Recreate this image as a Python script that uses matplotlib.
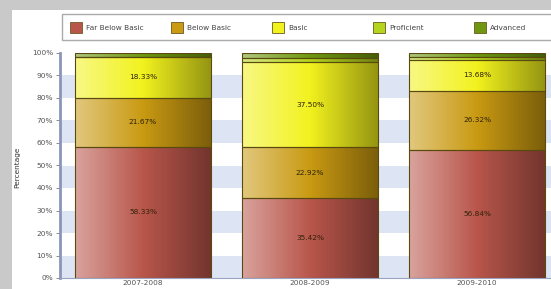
import numpy as np
import matplotlib
matplotlib.use("Agg")
import matplotlib.pyplot as plt
from matplotlib.colors import LinearSegmentedColormap, to_rgb
from matplotlib.patches import Rectangle

# ---------- data ----------
years = ["2007-2008", "2008-2009", "2009-2010"]
levels = ["Far Below Basic", "Below Basic", "Basic", "Proficient", "Advanced"]
far_below = [58.33, 35.42, 56.84]
below = [21.67, 22.92, 26.32]
basic = [18.33, 37.50, 13.68]
proficient = [0.00, 2.08, 1.58]
advanced = [1.67, 2.08, 1.58]
series = [far_below, below, basic, proficient, advanced]
colors = ["#b9564b", "#c99a12", "#f2f21e", "#b4d41e", "#6f9810"]
show_label = [True, True, True, False, False]

W, H = 551, 289
fs = 5.3

# ---------- figure ----------
fig = plt.figure(figsize=(W / 100, H / 100), dpi=100)
fig.patch.set_facecolor("#c9c9c9")
fig.patches.append(Rectangle((12 / W, 0), 1, 1 - 10 / H, transform=fig.transFigure,
                             facecolor="white", edgecolor="none", zorder=-5))

ax = fig.add_axes([60 / W, 11 / H, 491 / W, 225 / H])
ax.set_facecolor("white")

# light blue bands every other 10%
for lo in range(0, 100, 20):
    ax.axhspan(lo, lo + 10, color="#dde4f4", zorder=0, lw=0)


def shade(c):
    r = np.array(to_rgb(c))
    light = r + (1 - r) * 0.45
    dark = r * 0.62
    return LinearSegmentedColormap.from_list("g", [light, r, dark])


x = np.arange(len(years))
width = 0.81
bottom = np.zeros(len(years))
for vals, col, lab, show in zip(series, colors, levels, show_label):
    vals = np.array(vals)
    bars = ax.bar(x, vals, width, bottom=bottom, color="none", edgecolor="#5a4a10",
                  linewidth=0.8, zorder=3, label=lab)
    grad = np.linspace(0, 1, 64).reshape(1, -1)
    for b in bars:
        if b.get_height() <= 0:
            continue
        x0, y0 = b.get_x(), b.get_y()
        ax.imshow(grad, extent=(x0, x0 + b.get_width(), y0, y0 + b.get_height()),
                  cmap=shade(col), aspect="auto", zorder=2.5, interpolation="bilinear")
    if show:
        for xi, v, b0 in zip(x, vals, bottom):
            ax.text(xi, b0 + v / 2, f"{v:.2f}%", ha="center", va="center",
                    fontsize=fs, color="#2e2208", zorder=5)
    bottom += vals

ax.set_xlim(-0.497, 2.443)
ax.set_ylim(0, 100)
ax.set_yticks(range(0, 101, 10))
ax.set_yticklabels([f"{t}%" for t in range(0, 101, 10)], fontsize=fs)
ax.set_xticks(x)
ax.set_xticklabels(years, fontsize=fs)
ax.tick_params(axis="y", length=3, width=0.6, pad=2, colors="#777777", labelcolor="#555555")
ax.tick_params(axis="x", length=0, pad=1.5, labelcolor="#555555")
for s in ["top", "right"]:
    ax.spines[s].set_visible(False)
ax.spines["left"].set_color("#8a96b8")
ax.spines["left"].set_linewidth(2)
ax.spines["bottom"].set_color("#9aa4c0")
fig.text(17 / W, 1 - 167 / H, "Percentage", rotation=90, ha="center", va="center",
         fontsize=fs, color="#333333")

# legend: fixed-width slots like the original chart
fig.patches.append(Rectangle((62 / W, 1 - 40 / H), 500 / W, 26 / H, transform=fig.transFigure,
                             facecolor="white", edgecolor="#aaaaaa", linewidth=1, zorder=4))
for i, (lab, col) in enumerate(zip(levels, colors)):
    lx = 70 + i * 101
    fig.patches.append(Rectangle((lx / W, 1 - 33 / H), 12 / W, 11 / H, transform=fig.transFigure,
                                 facecolor=col, edgecolor="#6a5a20", linewidth=0.6, zorder=5))
    fig.text((lx + 16) / W, 1 - 27.5 / H, lab, ha="left", va="center",
             fontsize=fs, color="#444444", zorder=6)

fig.savefig("out.png", dpi=100, facecolor=fig.get_facecolor())
